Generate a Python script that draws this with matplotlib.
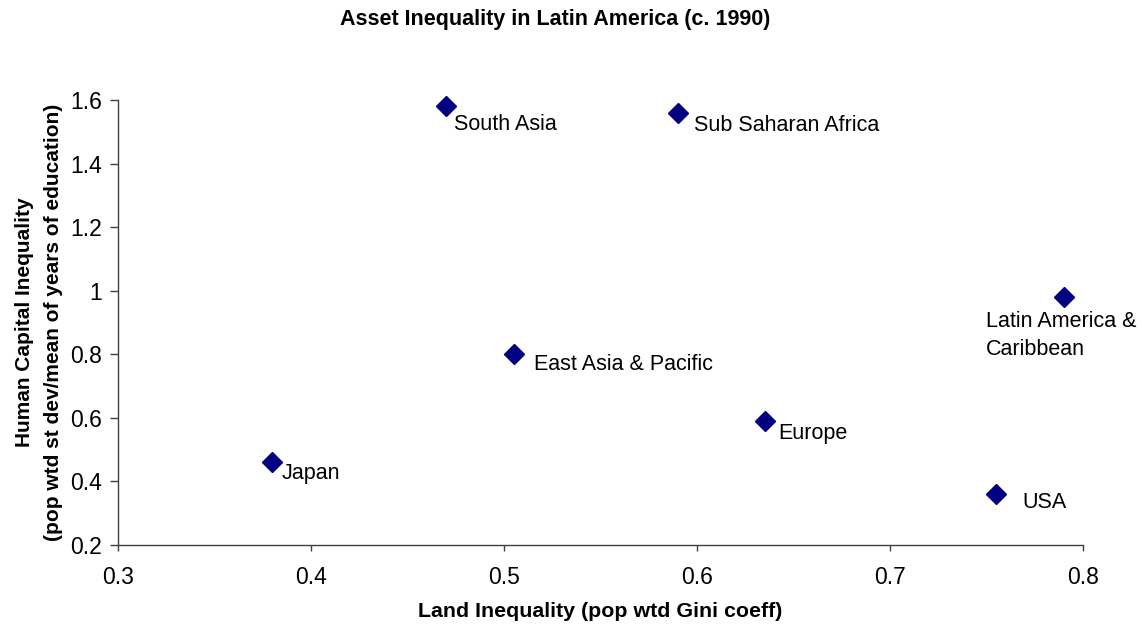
import matplotlib
matplotlib.use("Agg")
import matplotlib.pyplot as plt

regions = ["Japan", "South Asia", "Sub Saharan Africa", "East Asia & Pacific",
           "Europe", "USA", "Latin America &\nCaribbean"]
land_gini = [0.38, 0.47, 0.59, 0.505, 0.635, 0.755, 0.79]
human_cap = [0.46, 1.58, 1.56, 0.80, 0.59, 0.36, 0.98]
# label offsets in points (left edge, baseline of last line) from the marker
label_offsets = [(6.5, -12), (5.8, -17), (12, -13), (14.4, -11.5), (10, -13), (18.7, -10), (-56, -41.8)]

x_ticks = [0.3, 0.4, 0.5, 0.6, 0.7, 0.8]
y_ticks = [0.2, 0.4, 0.6, 0.8, 1.0, 1.2, 1.4, 1.6]
y_tick_labels = ["0.2", "0.4", "0.6", "0.8", "1", "1.2", "1.4", "1.6"]

plt.rcParams['font.family'] = ['Liberation Sans', 'DejaVu Sans']

fig = plt.figure(figsize=(11.42, 6.32), dpi=100)
ax = fig.add_axes([0.1033, 0.1377, 0.845, 0.7041])

ax.plot(land_gini, human_cap, linestyle='none', marker='D', markersize=10.5,
        color='#000080', clip_on=False, zorder=3)

for name, x, y, (dx, dy) in zip(regions, land_gini, human_cap, label_offsets):
    ax.annotate(name, (x, y), xytext=(dx, dy), textcoords='offset points',
                fontsize=15.5, ha='left', va='baseline', color='black',
                annotation_clip=False, linespacing=1.44)

ax.set_xlim(0.3, 0.8)
ax.set_ylim(0.2, 1.6)
ax.set_xticks(x_ticks)
ax.set_xticklabels([f"{v:g}" for v in x_ticks])
ax.set_yticks(y_ticks)
ax.set_yticklabels(y_tick_labels)
ax.tick_params(axis='x', direction='out', length=4.3, width=1, labelsize=16.5,
               color='#404040', pad=11)
ax.tick_params(axis='y', direction='out', length=5.8, width=1, labelsize=16.5,
               color='#404040', pad=5.5)

for s in ['top', 'right']:
    ax.spines[s].set_visible(False)
for s in ['left', 'bottom']:
    ax.spines[s].set_color('#404040')
    ax.spines[s].set_linewidth(1)

ax.set_xlabel("Land Inequality (pop wtd Gini coeff)", fontsize=15.4,
              fontweight='bold', va='center')
ax.xaxis.set_label_coords(0.5, (545 - 612) / 445)
ax.set_ylabel("Human Capital Inequality\n(pop wtd st dev/mean of years of education)",
              fontsize=15, fontweight='bold', linespacing=1.68, va='center', ha='center')
ax.yaxis.set_label_coords((39 - 118) / 965, 0.5)

fig.text(555 / 1142, 1 - 19 / 632, "Asset Inequality in Latin America (c. 1990)",
         ha='center', va='center', fontsize=15.5, fontweight='bold')

fig.savefig("out.png", dpi=100)
